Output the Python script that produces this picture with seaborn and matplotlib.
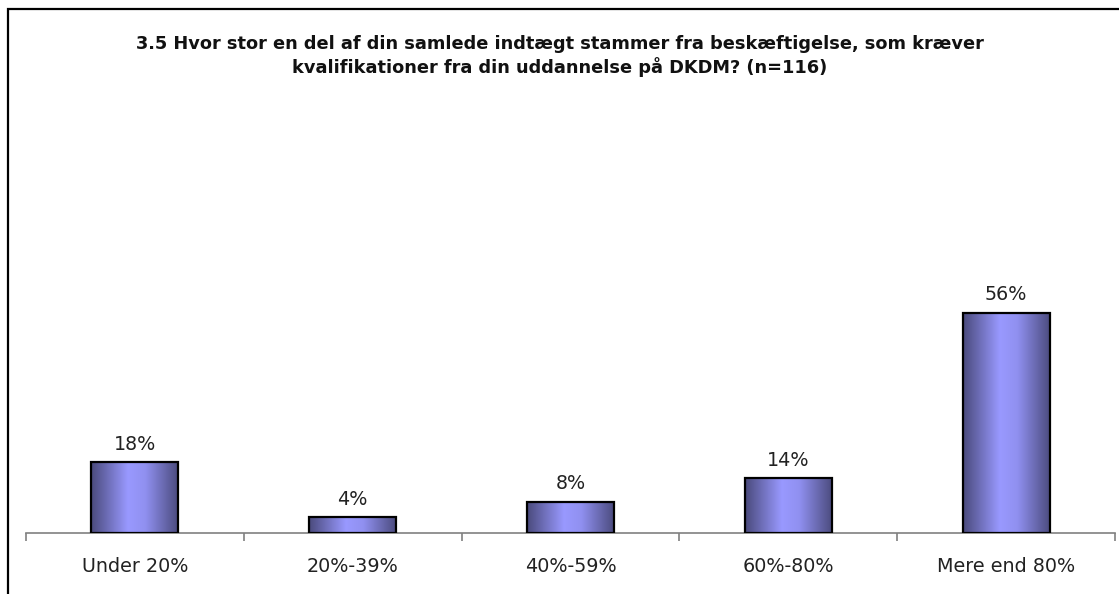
import numpy as np
import pandas as pd
import seaborn as sns
import matplotlib.pyplot as plt
from matplotlib.colors import LinearSegmentedColormap
from matplotlib.patches import Rectangle

title = ("3.5 Hvor stor en del af din samlede indtægt stammer fra beskæftigelse, som kræver\n"
         "kvalifikationer fra din uddannelse på DKDM? (n=116)")
categories = ["Under 20%", "20%-39%", "40%-59%", "60%-80%", "Mere end 80%"]
values = [18, 4, 8, 14, 56]

sns.set_style("white")
plt.rcParams['font.family'] = ['DejaVu Sans']

W, H = 1119, 594
fig = plt.figure(figsize=(W / 100, H / 100), dpi=100)
ax = fig.add_axes([26 / W, (H - 533) / H, 1089 / W, (533 - 297) / H])

df = pd.DataFrame({"kategori": categories, "andel": values})
sns.barplot(data=df, x="kategori", y="andel", color="#9999ff", edgecolor="black",
            linewidth=1.6, width=0.4, ax=ax, zorder=3)

# excel-like horizontal gradient inside each bar
cmap = LinearSegmentedColormap.from_list(
    "bar", [(0, "#4a4a7c"), (0.42, "#9999ff"), (0.62, "#9090f0"), (1, "#4a4a7c")])
grad = np.linspace(0, 1, 256).reshape(1, -1)
for p in ax.patches:
    x0, y0 = p.get_x(), p.get_y()
    w, h = p.get_width(), p.get_height()
    im = ax.imshow(grad, cmap=cmap, extent=[x0, x0 + w, y0, y0 + h],
                   aspect='auto', zorder=2)
    im.set_clip_path(p)
    p.set_facecolor('none')

ax.bar_label(ax.containers[0], labels=[f"{v}%" for v in values],
             padding=6, fontsize=13.8, color="#222222")

ax.set_xlim(-0.5, 4.5)
ax.set_ylim(0, 60)
ax.set_xlabel("")
ax.set_ylabel("")
ax.set_yticks([])
for s in ["top", "left", "right"]:
    ax.spines[s].set_visible(False)
ax.spines["bottom"].set_color("#808080")
ax.spines["bottom"].set_linewidth(1.2)

ax.set_xticks(range(len(categories)))
ax.set_xticklabels(categories, fontsize=13.8, color="#222222")
ax.tick_params(axis='x', which='major', bottom=True, length=0, pad=17.5)
ax.set_xticks(np.arange(-0.5, len(categories), 1), minor=True)
ax.tick_params(axis='x', which='minor', bottom=True, length=6, width=1.2,
               color="#808080", direction='out')

fig.text(560 / W, 1 - 56 / H, title, ha='center', va='center', fontsize=12.8,
         fontweight='bold', linespacing=1.25, color="#111111")

# chart area frame (cut at right and bottom edges)
fig.add_artist(Rectangle((8 / W, -0.5), 2, 1.5 - 9 / H, transform=fig.transFigure,
                         fill=False, edgecolor="black", linewidth=1.6))

plt.savefig("out.png", dpi=100)
